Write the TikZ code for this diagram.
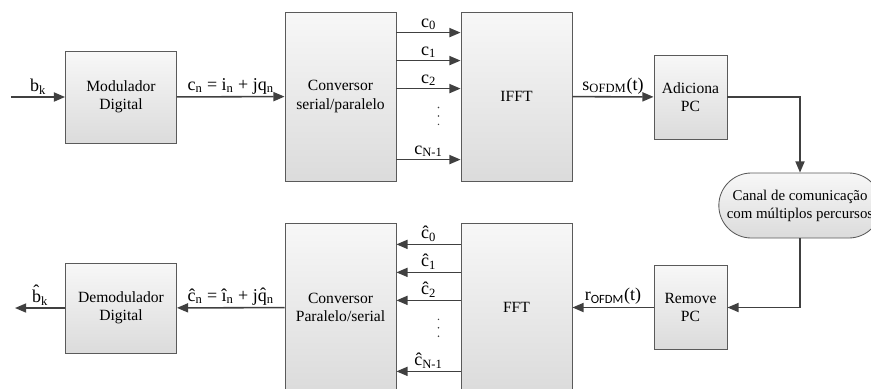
\documentclass[tikz,border=0pt]{standalone}
\usepackage{fontspec}
\setmainfont{Liberation Serif}
\newfontfamily\subsans{Carlito}
\usetikzlibrary{arrows.meta,calc,shapes.misc}
\definecolor{linha}{HTML}{404040}
\definecolor{borda}{HTML}{5A5A5A}

\begin{document}
\begin{tikzpicture}[>={Triangle[length=8pt,width=6.5pt]},
  every node/.style={font=\fontsize{11.1}{13}\selectfont},
  bloco/.style={draw=borda, line width=0.6pt, top color=white!97!black, bottom color=white!86!black, align=center, inner sep=2pt},
  seta/.style={->, line width=1.1pt, draw=linha},
  rotulo/.style={above, inner sep=1.5pt, font=\fontsize{12.8}{14}\selectfont}]
\useasboundingbox (0,0) rectangle (21.775,-9.7);

\node[bloco, minimum width=2.775cm, minimum height=2.3cm] (mod) at (3.025,-2.425) {Modulador\\Digital};
\node[bloco, minimum width=2.775cm, minimum height=4.225cm] (sp) at (8.5125,-2.4125) {Conversor\\serial/paralelo};
\node[bloco, minimum width=2.775cm, minimum height=4.225cm] (ifft) at (12.9125,-2.4125) {IFFT};
\node[bloco, minimum width=1.825cm, minimum height=2.1cm] (adpc) at (17.2625,-2.425) {Adiciona\\PC};
\node[bloco, rounded rectangle, minimum width=4.2cm, minimum height=1.625cm, font=\fontsize{10.6}{12.8}\selectfont] (canal) at (20,-5.1375) {Canal de comunicação\\com múltiplos percursos};
\node[bloco, minimum width=1.825cm, minimum height=2.1cm] (rmpc) at (17.2625,-7.6875) {Remove\\PC};
\node[bloco, minimum width=2.775cm, minimum height=4.225cm] (fft) at (12.9125,-7.6875) {FFT};
\node[bloco, minimum width=2.775cm, minimum height=4.225cm] (ps) at (8.5125,-7.6875) {Conversor\\Paralelo/serial};
\node[bloco, minimum width=2.775cm, minimum height=2.25cm] (demod) at (3.025,-7.7) {Demodulador\\Digital};

\coordinate (bk) at (0.275,-2.425);
\coordinate (bkh) at (0.375,-7.7);

\draw[seta] (bk) -- (mod) node[rotulo, midway] {b\textsubscript{k}};
\draw[seta] (mod) -- (sp) node[rotulo, midway] {c\textsubscript{n} = i\textsubscript{n} + jq\textsubscript{n}};
\draw[seta] (ifft) -- (adpc) node[rotulo, midway] {s\textsubscript{OFDM}(t)};
\draw[seta] (adpc.east) -| (canal.north);
\draw[seta] (canal.south) |- (rmpc.east);
\draw[seta] (rmpc) -- (fft) node[rotulo, midway] {r\textsubscript{\subsans OFDM}(t)};
\draw[seta] (ps) -- (demod) node[rotulo, midway] {\^{c}\textsubscript{n} = \^{\i}\textsubscript{n} + j\^{q}\textsubscript{n}};
\draw[seta] (demod) -- (bkh) node[rotulo, midway] {\^{b}\textsubscript{k}};

\foreach \o/\t in {0.525/0, 1.225/1, 1.925/2, 3.7/{N-1}} {
  \draw[seta] ($(sp.north east)+(0,-\o)$) -- ($(ifft.north west)+(0,-\o)$) node[rotulo, midway] {c\textsubscript{\t}};
  \draw[seta] ($(fft.north west)+(0,-\o-0.02)$) -- ($(ps.north east)+(0,-\o-0.02)$) node[rotulo, midway] {\^{c}\textsubscript{\t}};
}
\foreach \d in {2.4,2.61,2.82} {
  \fill[linha] ($(sp.north east)!0.5!(ifft.north west)+(0.25,-\d)$) circle (0.6pt);
  \fill[linha] ($(ps.north east)!0.5!(fft.north west)+(0.25,-\d-0.02)$) circle (0.6pt);
}
\end{tikzpicture}
\end{document}
